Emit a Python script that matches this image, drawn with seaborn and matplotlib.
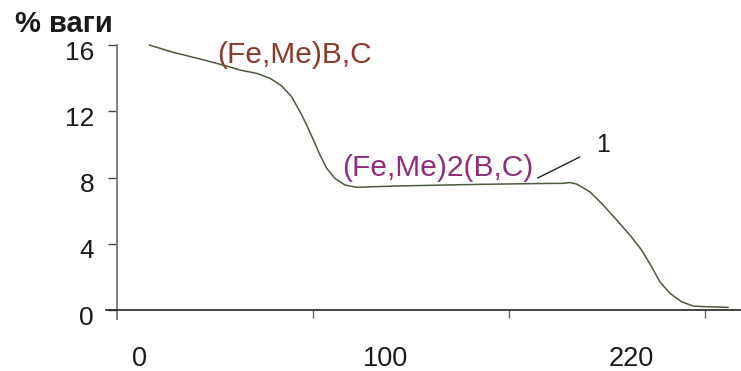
import matplotlib
matplotlib.use("Agg")
import matplotlib.pyplot as plt
import matplotlib.transforms as mtransforms
import seaborn as sns
import pandas as pd

# curve
temp = [16.5, 28.7, 42.3, 54.2, 62.8, 71.3, 78.1, 84.0, 89.1, 93.4, 96.8, 100.2,
        103.6, 107.0, 111.2, 116.3, 122.3, 142.3, 185.2, 215.8, 227.6, 231.1,
        234.5, 241.3, 248.1, 255.0, 261.7, 267.7, 272.8, 277.0, 282.1, 288.1,
        294.0, 300.9, 311.9]
weight = [16.00, 15.56, 15.16, 14.79, 14.49, 14.29, 13.99, 13.54, 12.88, 11.97, 11.17, 10.27,
          9.36, 8.56, 7.95, 7.55, 7.41, 7.49, 7.59, 7.64, 7.65, 7.70,
          7.61, 7.14, 6.34, 5.43, 4.53, 3.62, 2.61, 1.71, 1.01, 0.50,
          0.24, 0.20, 0.16]
y_ticks = [0, 4, 8, 12, 16]
x_ticks = [100, 200, 300]
x_label_pos = [11.7, 137.2, 262.2]
x_labels = ["0", "100", "220"]

data = pd.DataFrame({"temp": temp, "weight": weight})

sns.set_style("white")
plt.rcParams['font.family'] = ['Liberation Sans', 'DejaVu Sans']

fig = plt.figure(figsize=(7.41, 3.71), dpi=100)
ax = fig.add_axes([0, 0, 1, 1])
sns.lineplot(data=data, x="temp", y="weight", ax=ax, color="#4a5a3c", linewidth=1.1)
for line in ax.lines:
    line.set_solid_joinstyle('round')

ax.set_xlim(-59.7, 318.4)
ax.set_ylim(-3.68, 18.72)

# axes lines
ax.spines['top'].set_visible(False)
ax.spines['right'].set_visible(False)
ax.spines['left'].set_position(('data', 0))
ax.spines['left'].set_bounds(-0.55, 16)
ax.spines['left'].set_color('#808080')
ax.spines['left'].set_linewidth(1.4)
ax.spines['bottom'].set_position(('data', 0))
ax.spines['bottom'].set_bounds(-5.6, 318.4)
ax.spines['bottom'].set_color('#222222')
ax.spines['bottom'].set_linewidth(1.2)

ax.set_yticks(y_ticks)
ax.set_yticklabels([str(v) for v in y_ticks])
ax.tick_params(axis='y', direction='out', length=6.5, width=1, color='#444444',
               pad=10, labelsize=19, labelcolor='#1a1a1a', left=True)
# the labels sit a little below their ticks in the original
shift = mtransforms.ScaledTranslation(0, -5 / 100, fig.dpi_scale_trans)
for lab in ax.get_yticklabels():
    lab.set_transform(lab.get_transform() + shift)

ax.set_xticks(x_ticks)
ax.set_xticklabels(["", "", ""])
ax.set_xticks(x_label_pos, minor=True)
ax.set_xticklabels(x_labels, minor=True)
ax.tick_params(axis='x', which='major', direction='out', length=6, width=1,
               color='#666666', bottom=True)
ax.tick_params(axis='x', which='minor', length=0, pad=26, labelsize=19.5,
               labelcolor='#1a1a1a', bottom=True)
ax.set_xlabel("")
ax.set_ylabel("")

fig.text(0.02, 0.914, "% ваги", fontsize=21, fontweight='bold', color='#1a1a1a',
         ha='left', va='baseline')

ax.text(51.1, 14.9, "(Fe,Me)B,C", fontsize=21.5, color='#8b3a2a', ha='left', va='baseline')
ax.text(115, 8.09, "(Fe,Me)2(B,C)", fontsize=21.5, color='#8e2f7c', ha='left', va='baseline')
ax.text(247.8, 9.54, "1", fontsize=18, color='#1a1a1a', ha='center', va='baseline')
ax.plot([214.6, 236.1], [7.97, 9.24], color='#222222', linewidth=1)

fig.savefig("out.png", dpi=100)
